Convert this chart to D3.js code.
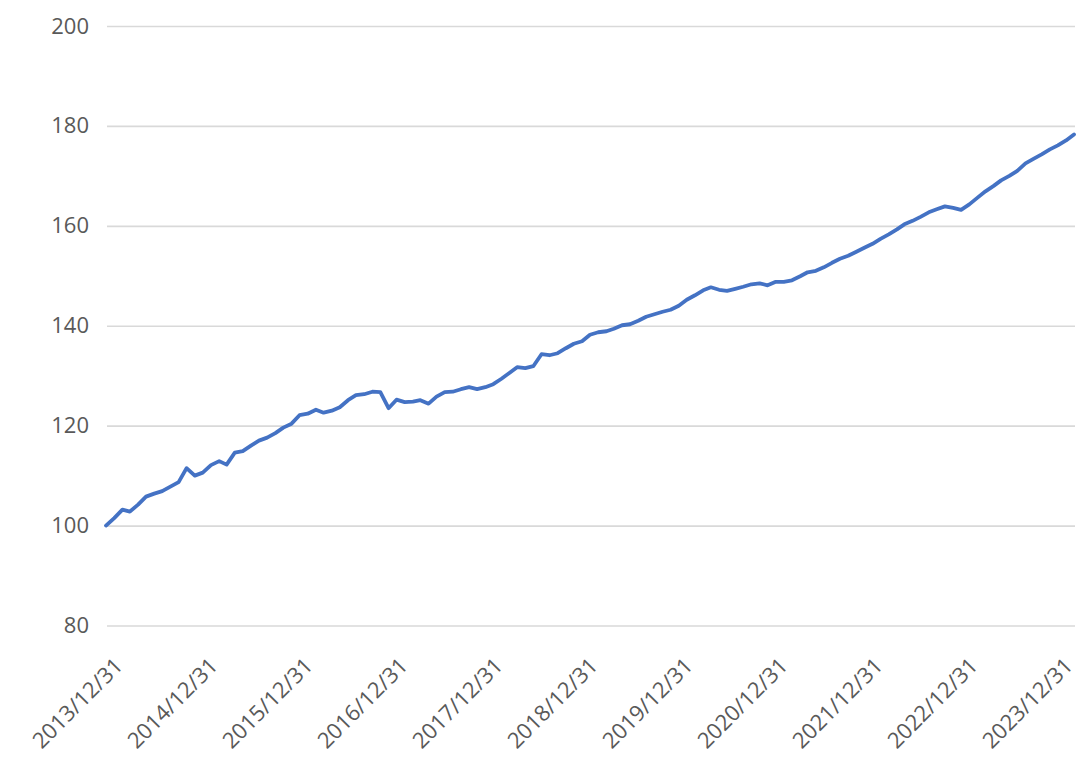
<!DOCTYPE html>
<html><head><meta charset="utf-8">
<script src="https://cdn.jsdelivr.net/npm/d3@7"></script>
<style>html,body{margin:0;padding:0;background:#fff;} svg{display:block;}</style>
</head><body>
<svg id="chart" width="1080" height="776"></svg>
<script>
// month-end observations (YYYY-MM)
const months = [
"2013-12",
"2014-01","2014-02","2014-03","2014-04","2014-05","2014-06","2014-07","2014-08","2014-09","2014-10","2014-11","2014-12",
"2015-01","2015-02","2015-03","2015-04","2015-05","2015-06","2015-07","2015-08","2015-09","2015-10","2015-11","2015-12",
"2016-01","2016-02","2016-03","2016-04","2016-05","2016-06","2016-07","2016-08","2016-09","2016-10","2016-11","2016-12",
"2017-01","2017-02","2017-03","2017-04","2017-05","2017-06","2017-07","2017-08","2017-09","2017-10","2017-11","2017-12",
"2018-01","2018-02","2018-03","2018-04","2018-05","2018-06","2018-07","2018-08","2018-09","2018-10","2018-11","2018-12",
"2019-01","2019-02","2019-03","2019-04","2019-05","2019-06","2019-07","2019-08","2019-09","2019-10","2019-11","2019-12",
"2020-01","2020-02","2020-03","2020-04","2020-05","2020-06","2020-07","2020-08","2020-09","2020-10","2020-11","2020-12",
"2021-01","2021-02","2021-03","2021-04","2021-05","2021-06","2021-07","2021-08","2021-09","2021-10","2021-11","2021-12",
"2022-01","2022-02","2022-03","2022-04","2022-05","2022-06","2022-07","2022-08","2022-09","2022-10","2022-11","2022-12",
"2023-01","2023-02","2023-03","2023-04","2023-05","2023-06","2023-07","2023-08","2023-09","2023-10","2023-11","2023-12"
];
const values = [
100.0,
101.5,103.2,102.8,104.2,105.8,106.4,106.9,107.8,108.7,111.5,110.0,110.6,
112.1,112.9,112.2,114.6,114.9,116.0,117.0,117.6,118.5,119.6,120.4,122.1,
122.4,123.2,122.6,123.0,123.7,125.1,126.1,126.3,126.8,126.7,123.5,125.2,
124.7,124.8,125.1,124.4,125.8,126.7,126.8,127.3,127.7,127.3,127.7,128.3,
129.4,130.6,131.7,131.5,131.9,134.3,134.1,134.5,135.5,136.4,136.9,138.2,
138.7,138.9,139.4,140.1,140.3,141.0,141.8,142.3,142.8,143.2,144.0,145.2,
146.1,147.1,147.7,147.2,147.0,147.4,147.8,148.3,148.5,148.1,148.8,148.8,
149.1,149.9,150.7,151.0,151.7,152.6,153.4,154.0,154.8,155.6,156.4,157.4,
158.3,159.3,160.3,161.0,161.8,162.7,163.3,163.9,163.6,163.2,164.3,165.6,
166.9,168.0,169.1,170.0,171.0,172.5,173.4,174.3,175.3,176.1,177.1,178.3
];
const yTicks = [80, 100, 120, 140, 160, 180, 200];
const xTickLabels = ["2013/12/31","2014/12/31","2015/12/31","2016/12/31","2017/12/31",
  "2018/12/31","2019/12/31","2020/12/31","2021/12/31","2022/12/31","2023/12/31"];

const svg = d3.select("#chart");
const plot = {left: 107, right: 1075, top: 26, bottom: 625.5};
const FONT = "'Open Sans', 'Noto Sans', sans-serif";

const parse = d3.timeParse("%Y-%m");
const data = months.map((m, i) => ({date: parse(m), value: values[i]}));

const x = d3.scaleTime().domain(d3.extent(data, d => d.date)).range([106, 1074]);
const y = d3.scaleLinear().domain([80, 200]).range([plot.bottom, plot.top]);
const xLab = d3.scalePoint().domain(xTickLabels).range([113, 1063]);

// y axis with gridlines
const yAxis = svg.append("g")
  .attr("transform", `translate(${plot.left},0)`)
  .call(d3.axisLeft(y).tickValues(yTicks).tickSize(-(plot.right - plot.left)).tickPadding(18));
yAxis.select(".domain").remove();
yAxis.selectAll(".tick line").attr("stroke", "#d9d9d9").attr("stroke-width", 1.6);
yAxis.selectAll(".tick text")
  .attr("fill", "#595959").style("font-family", FONT).style("font-size", "22px");

// x labels (rotated)
svg.append("g").selectAll("text").data(xTickLabels).join("text")
  .attr("transform", d => `translate(${xLab(d)},656) rotate(-45)`)
  .attr("text-anchor", "end")
  .attr("dy", "0.72em")
  .attr("fill", "#595959")
  .style("font-family", FONT).style("font-size", "22px")
  .text(d => d);

// line
svg.append("path").datum(data)
  .attr("fill", "none")
  .attr("stroke", "#4472C4")
  .attr("stroke-width", 3.8)
  .attr("stroke-linejoin", "round")
  .attr("stroke-linecap", "round")
  .attr("d", d3.line().x(d => x(d.date)).y(d => y(d.value)));
</script>
</body></html>
